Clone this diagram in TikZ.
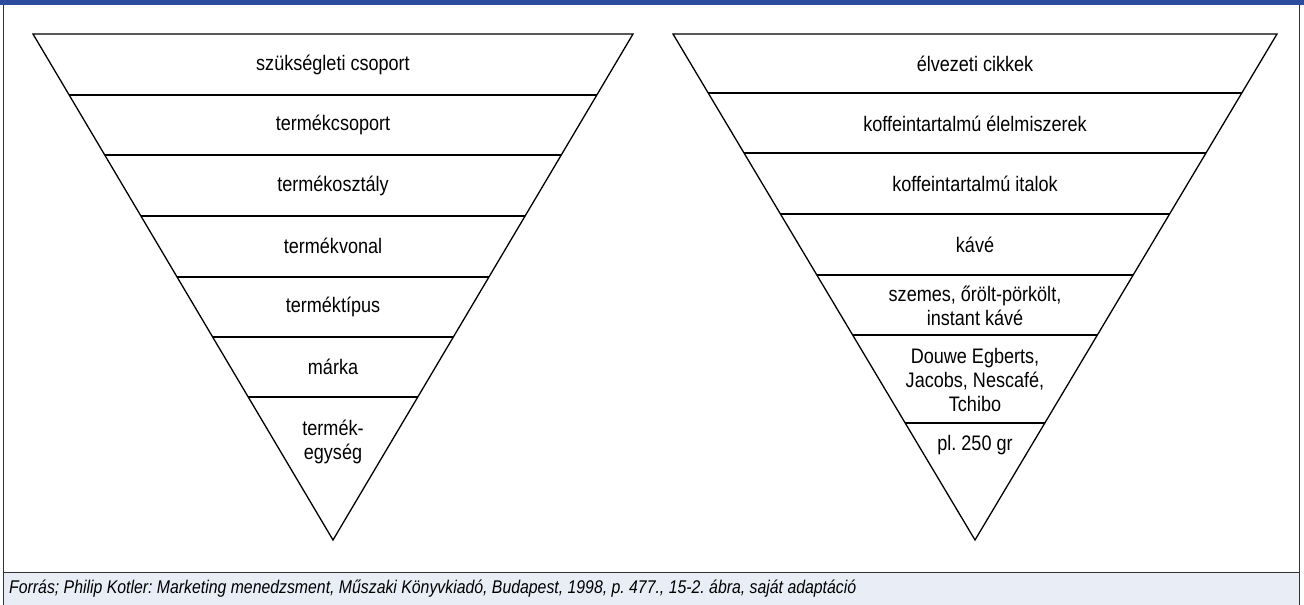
\documentclass[tikz,border=0pt]{standalone}
\usepackage{fontspec}
\setmainfont{Liberation Sans}
\newfontfamily\narrowsans[FakeStretch=0.86]{Liberation Sans}
\usetikzlibrary{calc}
\definecolor{pblue}{HTML}{2E4C9E}
\definecolor{pcap}{HTML}{E9EEF6}
\tikzset{
  pframe/.style={draw=black!80, line width=1pt},
  ptri/.style={draw=black, line width=1.3pt, line join=miter},
  plevel/.style={draw=black, line width=1.3pt},
  plbl/.style={font=\narrowsans\fontsize{21}{24}\selectfont\frenchspacing, align=center, inner sep=0pt},
  pcapt/.style={font=\narrowsans\fontsize{18.4}{22}\selectfont\itshape\frenchspacing, anchor=west, inner sep=0pt},
}

\begin{document}
\begin{tikzpicture}[x=1pt,y=-1pt]
  \useasboundingbox (0,0) rectangle (1304,605);
  \fill[white] (0,0) rectangle (1304,605);

  % keret
  \fill[pblue] (0,0) rectangle (1304,5);
  \fill[pcap] (3,572) rectangle (1299,605);
  \draw[pframe] (3,5) -- (3,605);
  \draw[pframe] (1299,5) -- (1299,605);
  \draw[pframe] (3,572) -- (1299,572);

  % bal piramis
  \coordinate (ltl) at (33,34);
  \coordinate (ltr) at (633,34);
  \coordinate (lap) at (333,540);
  \draw[ptri] (ltl) -- (ltr) -- (lap) -- cycle;
  \foreach \t in {0.1206,0.2391,0.3597,0.4802,0.5988,0.7174}
    \draw[plevel] ($(ltl)!\t!(lap)$) -- ($(ltr)!\t!(lap)$);

  \node[plbl] (lszuk) at (333,65)  {szükségleti csoport};
  \node[plbl] (lcsop) at (333,125) {termékcsoport};
  \node[plbl] (losz)  at (333,186) {termékosztály};
  \node[plbl] (lvon)  at (333,246) {termékvonal};
  \node[plbl] (ltip)  at (333,307) {terméktípus};
  \node[plbl] (lmark) at (333,367) {márka};
  \node[plbl] (legys) at (333,442) {termék-\\egység};

  % jobb piramis
  \coordinate (rtl) at (673,34);
  \coordinate (rtr) at (1277,34);
  \coordinate (rap) at (975,540);
  \draw[ptri] (rtl) -- (rtr) -- (rap) -- cycle;
  \foreach \t in {0.1166,0.2352,0.3557,0.4763,0.5949,0.7688}
    \draw[plevel] ($(rtl)!\t!(rap)$) -- ($(rtr)!\t!(rap)$);

  \node[plbl] (relv)  at (975,64)  {élvezeti cikkek};
  \node[plbl] (relel) at (975,124) {koffeintartalmú élelmiszerek};
  \node[plbl] (rital) at (975,184) {koffeintartalmú italok};
  \node[plbl] (rkave) at (975,245) {kávé};
  \node[plbl] (rszem) at (975,306) {szemes, őrölt-pörkölt,\\instant kávé};
  \node[plbl] (rmark) at (975,380) {Douwe Egberts,\\Jacobs, Nescafé,\\Tchibo};
  \node[plbl] (rgr)   at (975,445) {pl. 250 gr};

  % forrás
  \node[pcapt] (forras) at (9,589) {Forrás; Philip Kotler: Marketing menedzsment, Műszaki Könyvkiadó, Budapest, 1998, p. 477., 15-2. ábra, saját adaptáció};
\end{tikzpicture}
\end{document}
